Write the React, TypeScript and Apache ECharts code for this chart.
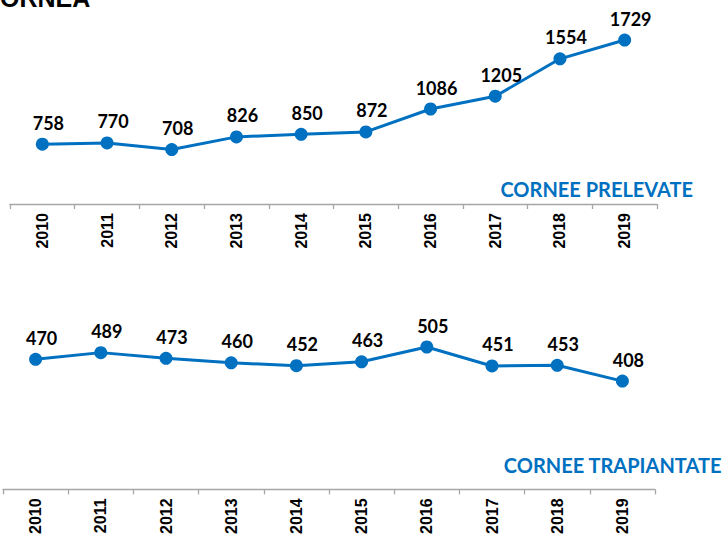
import React, { useEffect, useRef } from "react";
import * as echarts from "echarts";

const years = ["2010", "2011", "2012", "2013", "2014", "2015", "2016", "2017", "2018", "2019"];
const prelevate = [758, 770, 708, 826, 850, 872, 1086, 1205, 1554, 1729];
const trapiantate = [470, 489, 473, 460, 452, 463, 505, 451, 453, 408];
const mainTitle = "CORNEA";
const topTitle = "CORNEE PRELEVATE";
const bottomTitle = "CORNEE TRAPIANTATE";

const BLUE = "#0070C0";

export default function App() {
  const ref = useRef<HTMLDivElement>(null);
  useEffect(() => {
    document.body.style.margin = "0";
    if (!ref.current) return;
    const chart = echarts.init(ref.current, null, { renderer: "svg" });
    const xAxisCommon = {
      type: "category" as const,
      data: years,
      boundaryGap: true,
      axisLine: { lineStyle: { color: "#a6a6a6", width: 1.3 } },
      axisTick: { show: true, length: 5, lineStyle: { color: "#a6a6a6", width: 1.3 } },
      axisLabel: {
        rotate: 90,
        margin: 9,
        color: "#000",
        fontFamily: "Liberation Sans",
        fontWeight: "bold" as const,
        fontSize: 16,
      },
    };
    const labelCommon = {
      show: true,
      position: "top" as const,
      distance: 6,
      offset: [6, 0],
      color: "#000",
      fontFamily: "Lato",
      fontWeight: "bold" as const,
      fontSize: 18,
    };
    chart.setOption({
      animation: false,
      grid: [
        { left: 10, right: 70, top: 11, height: 193 },
        { left: 3, right: 72, top: 313.6, height: 177.4 },
      ],
      xAxis: [
        { ...xAxisCommon, gridIndex: 0 },
        { ...xAxisCommon, gridIndex: 1 },
      ],
      yAxis: [
        { type: "value", gridIndex: 0, min: 200, max: 2000, show: false, splitLine: { show: false } },
        { type: "value", gridIndex: 1, min: 100, max: 600, show: false, splitLine: { show: false } },
      ],
      graphic: [
        {
          type: "text",
          left: -18,
          top: -15,
          style: {
            text: mainTitle,
            fill: "#000",
            font: "bold 25px 'Liberation Sans'",
          },
        },
        {
          type: "text",
          right: 34,
          top: 179,
          style: {
            text: topTitle,
            fill: BLUE,
            font: "bold 20px Lato",
          },
        },
        {
          type: "text",
          right: 5,
          top: 455,
          style: {
            text: bottomTitle,
            fill: BLUE,
            font: "bold 20px Lato",
          },
        },
      ],
      series: [
        {
          type: "line",
          xAxisIndex: 0,
          yAxisIndex: 0,
          data: prelevate,
          symbol: "circle",
          symbolSize: 13,
          lineStyle: { color: BLUE, width: 3 },
          itemStyle: { color: BLUE },
          label: labelCommon,
        },
        {
          type: "line",
          xAxisIndex: 1,
          yAxisIndex: 1,
          data: trapiantate,
          symbol: "circle",
          symbolSize: 13,
          lineStyle: { color: BLUE, width: 3 },
          itemStyle: { color: BLUE },
          label: labelCommon,
        },
      ],
    });
    return () => chart.dispose();
  }, []);
  return <div ref={ref} style={{ width: 727, height: 537 }} />;
}
